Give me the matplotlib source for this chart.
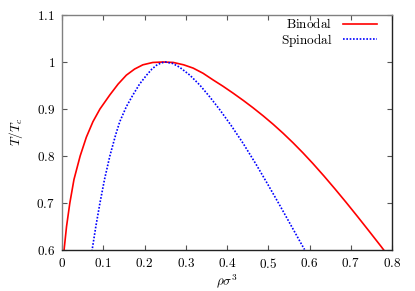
import matplotlib
matplotlib.use("Agg")
import matplotlib.pyplot as plt
from matplotlib.lines import Line2D

plt.rcParams['mathtext.fontset'] = 'cm'
plt.rcParams['font.family'] = ['DejaVu Serif']

binodal_rho = [0.004, 0.005, 0.011, 0.019, 0.029, 0.044, 0.059, 0.075, 0.092, 0.116, 0.136, 0.156,
               0.176, 0.196, 0.22, 0.245, 0.27, 0.295, 0.318, 0.342, 0.366, 0.39, 0.415, 0.44,
               0.463, 0.488, 0.512, 0.536, 0.56, 0.584, 0.608, 0.635, 0.662, 0.689, 0.717,
               0.745, 0.774, 0.78]
binodal_T = [0.59, 0.60, 0.65, 0.70, 0.75, 0.80, 0.84, 0.873, 0.90, 0.93, 0.953, 0.972,
             0.985, 0.994, 0.999, 1.0, 0.999, 0.994, 0.987, 0.976, 0.962, 0.9486, 0.9336, 0.9179,
             0.9027, 0.8852, 0.8674, 0.8484, 0.8282, 0.8068, 0.7842, 0.7575, 0.7297, 0.7011, 0.6706,
             0.6395, 0.607, 0.600]
spinodal_rho = [0.072, 0.073, 0.082, 0.092, 0.103, 0.116, 0.13, 0.14, 0.156, 0.172, 0.188, 0.205,
                0.218, 0.229, 0.24, 0.25, 0.268, 0.285, 0.31, 0.334, 0.358, 0.382, 0.41, 0.439, 0.47,
                0.5, 0.528, 0.556, 0.584, 0.588]
spinodal_T = [0.59, 0.60, 0.65, 0.70, 0.75, 0.80, 0.845, 0.873, 0.905, 0.93, 0.953, 0.972,
              0.985, 0.993, 0.998, 1.0, 0.997, 0.989, 0.972, 0.951, 0.926, 0.899, 0.865, 0.827, 0.783,
              0.738, 0.695, 0.651, 0.607, 0.601]

xticks = [0, 0.1, 0.2, 0.3, 0.4, 0.5, 0.6, 0.7, 0.8]
xticklabels = ['0', '0.1', '0.2', '0.3', '0.4', '0.5', '0.6', '0.7', '0.8']
yticks = [0.6, 0.7, 0.8, 0.9, 1.0, 1.1]
yticklabels = ['0.6', '0.7', '0.8', '0.9', '1', '1.1']

fig = plt.figure(figsize=(4.15, 2.91), dpi=100)
ax = fig.add_axes([62/415, 41/291, 330/415, 235/291])

ax.plot(binodal_rho, binodal_T, color='#ff0000', lw=1.2, solid_joinstyle='round')
ax.plot(spinodal_rho, spinodal_T, color='#0000ff', lw=1.2, linestyle=(0, (1, 1)))

ax.set_xlim(0, 0.8)
ax.set_ylim(0.6, 1.1)
ax.set_xticks(xticks)
ax.set_xticklabels(['$' + t + '$' for t in xticklabels], fontsize=9.5)
ax.set_yticks(yticks)
ax.set_yticklabels(['$' + t + '$' for t in yticklabels], fontsize=9.5)
ax.tick_params(direction='in', length=3.5, width=0.8, top=True, right=True, pad=5, color='#555555')

for side in ['left', 'top']:
    ax.spines[side].set_color('#808080')
for side in ['bottom', 'right']:
    ax.spines[side].set_color('#222222')
for s in ax.spines.values():
    s.set_linewidth(1.0)

ax.set_xlabel(r'$\rho\sigma^3$', fontsize=9.5, labelpad=1)
ax.set_ylabel(r'$T/T_c$', fontsize=9.5, labelpad=8)

handles = [Line2D([], [], color='#ff0000', lw=1.2),
           Line2D([], [], color='#0000ff', lw=1.2, linestyle=(0, (1, 1)))]
leg = ax.legend(handles, [r'$\mathrm{Binodal}$', r'$\mathrm{Spinodal}$'], loc='upper right',
                frameon=False, markerfirst=False, fontsize=9.5, handlelength=2.6,
                handletextpad=0.75, labelspacing=0.05, borderaxespad=0.0,
                bbox_to_anchor=(0.970, 1.012))
for t in leg.get_texts():
    t.set_ha('right')

fig.savefig('out.png', dpi=100)
